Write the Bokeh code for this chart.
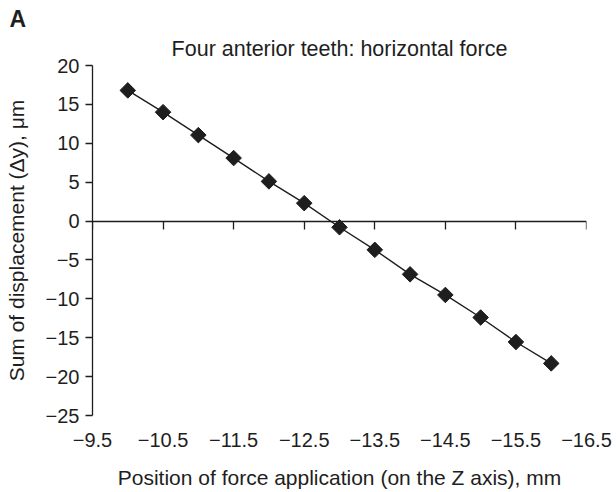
from bokeh.plotting import figure
from bokeh.models import Range1d, LinearAxis, FixedTicker, Title, ColumnDataSource
from bokeh.embed import file_html
from bokeh.resources import INLINE
import math

# Data
positions = [-10.0, -10.5, -11.0, -11.5, -12.0, -12.5, -13.0, -13.5, -14.0, -14.5, -15.0, -15.5, -16.0]
displacement = [16.8, 14.0, 11.05, 8.1, 5.1, 2.3, -0.8, -3.7, -6.85, -9.5, -12.4, -15.55, -18.3]
x_ticks = [-9.5, -10.5, -11.5, -12.5, -13.5, -14.5, -15.5, -16.5]
y_ticks = [-25, -20, -15, -10, -5, 0, 5, 10, 15, 20]

FONT = "Liberation Sans"
INK = "#1e1e1e"

src = ColumnDataSource(dict(x=positions, y=displacement))

p = figure(width=616, height=492, output_backend="svg", toolbar_location=None,
           x_range=Range1d(-9.5, -16.5), y_range=Range1d(-25, 20),
           min_border_left=92, min_border_right=30, min_border_top=65, min_border_bottom=77)
p.outline_line_color = None
p.grid.visible = False
p.background_fill_color = "white"
p.border_fill_color = "white"

# panel letter (outermost title)
p.title = Title(text="A", align="left", offset=-83, standoff=-3, text_font=FONT,
                text_font_size="23px", text_font_style="bold", text_color=INK)

# chart title (nearest the frame)
p.add_layout(Title(text="Four anterior teeth: horizontal force", align="center",
                   standoff=9, text_font=FONT, text_font_size="21.5px",
                   text_font_style="normal", text_color=INK), "above")

# y axis
ya = p.yaxis[0]
ya.ticker = FixedTicker(ticks=y_ticks)
ya.axis_label = "Sum of displacement (\u0394y), \u03bcm"
ya.axis_label_text_font = FONT
ya.axis_label_text_font_size = "21px"
ya.axis_label_text_font_style = "normal"
ya.axis_label_text_color = INK
ya.axis_label_standoff = 15
ya.major_label_text_font = FONT
ya.major_label_text_font_size = "20px"
ya.major_label_text_color = INK
ya.major_label_standoff = 6
ya.major_tick_out = 7
ya.major_tick_in = 0
ya.minor_tick_out = 0
ya.minor_tick_in = 0
ya.axis_line_color = INK
ya.major_tick_line_color = INK
ya.axis_line_width = 1.3
ya.major_tick_line_width = 1.3

# bottom axis: labels only
xa = p.xaxis[0]
xa.ticker = FixedTicker(ticks=x_ticks)
xa.axis_line_color = None
xa.major_tick_line_color = None
xa.minor_tick_line_color = None
xa.major_tick_out = 0
xa.major_tick_in = 0
xa.major_label_standoff = 17
xa.major_label_text_font = FONT
xa.major_label_text_font_size = "20px"
xa.major_label_text_color = INK
xa.axis_label = "Position of force application (on the Z axis), mm"
xa.axis_label_text_font = FONT
xa.axis_label_text_font_size = "21px"
xa.axis_label_text_font_style = "normal"
xa.axis_label_text_color = INK
xa.axis_label_standoff = 16

# axis line at y = 0 with downward ticks
zero_axis = LinearAxis(fixed_location=0, ticker=FixedTicker(ticks=x_ticks),
                       major_label_text_font_size="0px", major_label_text_alpha=0,
                       major_tick_out=0, major_tick_in=8, minor_tick_out=0, minor_tick_in=0,
                       axis_line_color=INK, major_tick_line_color=INK,
                       axis_line_width=1.3, major_tick_line_width=1.3,
                       major_label_standoff=0)
p.add_layout(zero_axis, "above")

p.line("x", "y", source=src, line_color=INK, line_width=1.4)
p.scatter("x", "y", source=src, marker="square", size=11, angle=math.pi / 4,
          fill_color=INK, line_color=INK, line_width=1)

open("out.html", "w").write(file_html(p, INLINE))
